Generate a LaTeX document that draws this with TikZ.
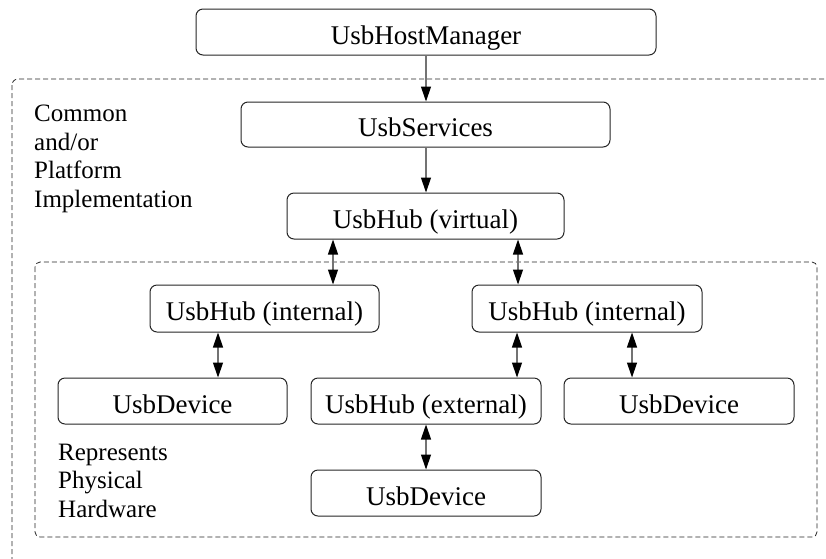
\documentclass[tikz,border=0pt]{standalone}
\usepackage{fontspec}
\setmainfont{Liberation Serif}
\usetikzlibrary{arrows.meta}
\tikzset{
  box/.style={draw=black!85, line width=1pt, rounded corners=7pt, inner sep=0pt,
    font=\fontsize{27}{30}\selectfont, text=black, text height=24pt, text depth=0pt},
  side/.style={anchor=north west, align=left, inner sep=0pt,
    font=\fontsize{25}{28.5}\selectfont},
  frame/.style={draw=black!85, line width=0.8pt, dash pattern=on 5pt off 3pt},
  conn/.style={draw=black!55, line width=1.2pt},
  tip/.style={},
  one/.style={conn, -{Triangle[length=15pt,width=10pt,color=black]}},
  two/.style={conn, {Triangle[length=15pt,width=10pt,color=black]}-{Triangle[length=15pt,width=10pt,color=black]}}
}
\begin{document}
\begin{tikzpicture}[x=1pt,y=-1pt]
\clip (0,0) rectangle (826,558);
\fill[white] (0,0) rectangle (826,558);
% frames
\draw[frame, rounded corners=6pt] (12,79) rectangle (860,600);
\draw[frame, rounded corners=5pt] (35,262) rectangle (817,537);
% side texts
\node[side] (common) at (34,105) {Common\\and/or\\Platform\\Implementation};
\node[side] (repr) at (58,443.5) {Represents\\Physical\\Hardware};
% boxes
\node[box, minimum width=460pt, minimum height=46pt] (hm) at (426,32) {UsbHostManager};
\node[box, minimum width=369pt, minimum height=45pt] (svc) at (425.5,124.5) {UsbServices};
\node[box, minimum width=277pt, minimum height=46pt] (virt) at (425.5,216) {UsbHub (virtual)};
\node[box, minimum width=229pt, minimum height=47pt] (inL) at (264.5,308.5) {UsbHub (internal)};
\node[box, minimum width=230pt, minimum height=47pt] (inR) at (587,308.5) {UsbHub (internal)};
\node[box, minimum width=229pt, minimum height=46pt] (devL) at (172.5,401) {UsbDevice};
\node[box, minimum width=230pt, minimum height=46pt] (ext) at (426,401) {UsbHub (external)};
\node[box, minimum width=230pt, minimum height=46pt] (devR) at (679,401) {UsbDevice};
\node[box, minimum width=230pt, minimum height=46pt] (devB) at (426,493) {UsbDevice};
% connectors
\draw[one] (hm.south -| 426,0) -- (svc.north -| 426,0);
\draw[one] (svc.south -| 426,0) -- (virt.north -| 426,0);
\draw[two] (virt.south -| 333,0) -- (inL.north -| 333,0);
\draw[two] (virt.south -| 518,0) -- (inR.north -| 518,0);
\draw[two] (inL.south -| 218,0) -- (devL.north -| 218,0);
\draw[two] (inR.south -| 517,0) -- (ext.north -| 517,0);
\draw[two] (inR.south -| 632,0) -- (devR.north -| 632,0);
\draw[two] (ext.south -| 426,0) -- (devB.north -| 426,0);
\end{tikzpicture}
\end{document}
